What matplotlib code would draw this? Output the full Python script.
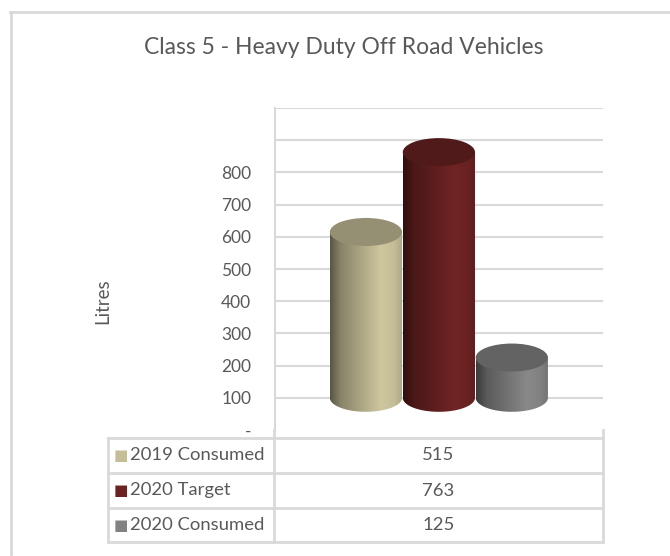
import numpy as np
import matplotlib
matplotlib.use("Agg")
import matplotlib.pyplot as plt
from matplotlib.path import Path
from matplotlib.patches import Ellipse, PathPatch
from matplotlib.lines import Line2D
import matplotlib.colors as mcolors

# data
series = ["2019 Consumed", "2020 Target", "2020 Consumed"]
values = [515, 763, 125]
colors = ["#c4bd97", "#6b2222", "#828282"]
tick_vals = [0, 100, 200, 300, 400, 500, 600, 700, 800, 900, 1000]
tick_labels = ["-", "100", "200", "300", "400", "500", "600", "700", "800", "", ""]

plt.rcParams['font.family'] = ['Lato', 'DejaVu Sans']
txt_col = "#595959"
line_col = "#d9d9d9"


def shade(c, f):
    rgb = np.array(mcolors.to_rgb(c))
    return np.clip(rgb * f, 0, 1)


def main():
    fig = plt.figure(figsize=(6.7, 5.56), dpi=100)
    ax = fig.add_axes([275 / 670, 126 / 556, 328 / 670, 322 / 556])

    ax.set_xlim(-1.247, 3.25)
    ax.set_ylim(0, 1000)
    for s in ax.spines.values():
        s.set_visible(False)
    ax.spines['left'].set_visible(True)
    ax.spines['left'].set_color(line_col)
    ax.spines['left'].set_linewidth(1.5)
    ax.set_xticks([])
    ax.set_yticks(tick_vals)
    ax.set_yticklabels(tick_labels)
    ax.tick_params(axis='y', length=0, pad=17, labelsize=12.5, labelcolor=txt_col)
    for v in tick_vals[1:]:
        ax.axhline(v, color=line_col, lw=1.5, zorder=0)

    # cylinders (3d look)
    floor = 100   # depth offset of the floor
    w = 0.99
    eh = 87
    t = np.linspace(0, 1, 200)
    prof = np.interp(t, [0, 0.15, 0.7, 0.88, 1.0], [0.45, 0.7, 1.05, 1.0, 0.88])
    for i, (v, c) in enumerate(zip(values, colors)):
        top = floor + v
        x0, x1 = i - w / 2, i + w / 2
        ang = np.linspace(np.pi, 2 * np.pi, 60)
        arc = np.column_stack([i + w / 2 * np.cos(ang), floor + eh / 2 * np.sin(ang)])
        verts = np.vstack([[x0, top], [x0, floor], arc, [x1, floor], [x1, top], [x0, top]])
        body = PathPatch(Path(verts), facecolor='none', edgecolor='none')
        ax.add_patch(body)
        img = np.array([[shade(c, f) for f in prof]])
        im = ax.imshow(img, extent=[x0, x1, floor - eh / 2, top], aspect='auto',
                       interpolation='bilinear', zorder=2)
        im.set_clip_path(body)
        ax.add_patch(Ellipse((i, top), w, eh, facecolor=shade(c, 0.76),
                             edgecolor='none', zorder=3))

    ax.set_ylabel("Litres", color=txt_col, fontsize=13.5)
    ax.yaxis.set_label_coords(-0.5, 0.4)

    # data table under the chart
    tr = ax.transAxes
    xl, xm, xr = (108 - 275) / 328, -1 / 328, 1.0
    rows_y = [-8 / 322, -43 / 322, -78 / 322, -112 / 322]
    kw = dict(transform=tr, color=line_col, lw=2, clip_on=False)
    for y in rows_y:
        ax.add_line(Line2D([xl, xr], [y, y], **kw))
    ax.add_line(Line2D([xl, xl], [rows_y[0], rows_y[-1]], **kw))
    ax.add_line(Line2D([xm, xm], [0, rows_y[-1]], **kw))
    ax.add_line(Line2D([xr, xr], [0, rows_y[-1]], **kw))
    for k, (name, v, c) in enumerate(zip(series, values, colors)):
        yc = (rows_y[k] + rows_y[k + 1]) / 2
        ax.text(xl + 13 / 328, yc, "\u25a0", transform=tr, color=c, fontsize=11,
                ha='center', va='center', family='DejaVu Sans')
        ax.text(xl + 22 / 328, yc, name, transform=tr, color=txt_col, fontsize=13.3,
                ha='left', va='center')
        ax.text((xm + xr) / 2, yc, str(v), transform=tr, color=txt_col, fontsize=13.3,
                ha='center', va='center')

    fig.text(344 / 670, 1 - 47 / 556, "Class 5 - Heavy Duty Off Road Vehicles",
             ha='center', va='center', color=txt_col, fontsize=16.5)

    # outer chart border
    fig.add_artist(Line2D([10 / 670, 1], [1 - 12 / 556] * 2, color=line_col, lw=2,
                          transform=fig.transFigure))
    fig.add_artist(Line2D([11 / 670] * 2, [1 - 12 / 556, 2 / 556], color=line_col, lw=2,
                          transform=fig.transFigure))

    plt.savefig("out.png", dpi=100)


if __name__ == '__main__':
    main()
